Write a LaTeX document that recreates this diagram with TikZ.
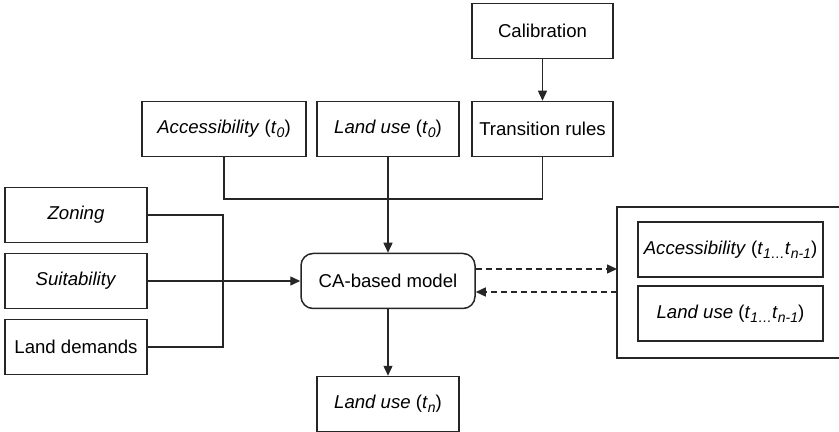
\documentclass[tikz,border=0pt]{standalone}
\usepackage{fontspec}
\setmainfont{Liberation Sans}
\usetikzlibrary{arrows.meta}
\newcommand{\tsub}[1]{\textit{t}\raisebox{-0.45ex}{\scriptsize\textit{#1}}}
\begin{document}
\begin{tikzpicture}[x=0.5pt,y=-0.5pt,line width=0.7pt,draw=black!85,
  every node/.style={font=\fontsize{9.3}{11}\selectfont,inner sep=1pt},
  box/.style={draw,line width=0.75pt,minimum width=#1*0.5pt,minimum height=27.5pt},
  box/.default=142,
  arr/.style={-{Triangle[length=5pt,width=4.5pt]}},
  dasharr/.style={arr,dash pattern=on 3pt off 2pt}]
\useasboundingbox (0,0) rectangle (839,432);
% inputs along the top
\node[box=141] (calib) at (542.5,31) {Calibration};
\node[box=141] (trans) at (542.5,129) {Transition rules};
\node[box=164] (acc0) at (224,129) {\textit{Accessibility} (\tsub{0})};
\node[box] (lu0) at (388,129) {\textit{Land use} (\tsub{0})};
% inputs on the left
\node[box] (zoning) at (76,215) {\textit{Zoning}};
\node[box] (suit) at (76,281) {\textit{Suitability}};
\node[box] (dem) at (76,347) {Land demands};
% model and output
\node[box=174,rounded corners=6pt] (ca) at (388,281) {CA-based model};
\node[box] (lun) at (388,404) {\textit{Land use} (\tsub{n})};
% intermediate states
\draw[line width=0.75pt] (617,207) rectangle (842,358);
\coordinate (outer) at (617,281);
\node[box=185] (acc1) at (730.5,249.5) {\textit{Accessibility} (\tsub{1\dots}\tsub{n-1})};
\node[box=185] (lu1) at (730.5,313.5) {\textit{Land use} (\tsub{1\dots}\tsub{n-1})};
\coordinate (join) at (388,199);
\coordinate (bus) at (223,215);
\draw[arr] (calib) -- (trans);
\draw (acc0.south) -- (acc0.south |- join) -- (trans.south |- join) -- (trans.south);
\draw[arr] (lu0) -- (ca);
\draw (zoning.east) -- (bus) -- (bus |- dem.east) -- (dem.east);
\draw[arr] (suit.east) -- (ca.west);
\draw[arr] (ca) -- (lun);
\draw[dasharr] ([yshift=6pt]ca.east) -- ([yshift=6pt]outer);
\draw[dasharr] ([yshift=-5.5pt]outer) -- ([yshift=-5.5pt]ca.east);
\end{tikzpicture}
\end{document}
